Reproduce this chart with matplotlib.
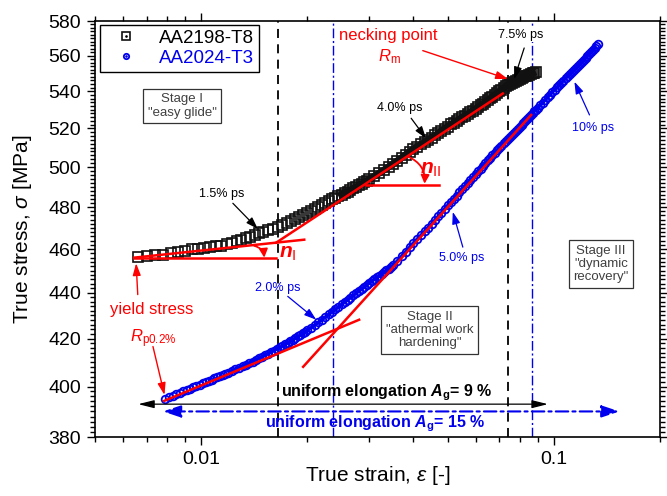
import matplotlib
matplotlib.use("Agg")
import matplotlib.pyplot as plt
from matplotlib.lines import Line2D
from matplotlib.ticker import FixedLocator, MultipleLocator, NullFormatter, FuncFormatter, LogLocator

plt.rcParams['font.family'] = ['Liberation Sans', 'DejaVu Sans']
plt.rcParams['mathtext.fontset'] = 'custom'
plt.rcParams['mathtext.rm'] = 'Liberation Sans'
plt.rcParams['mathtext.it'] = 'Liberation Sans:italic'
plt.rcParams['mathtext.bf'] = 'Liberation Sans:bold'
plt.rcParams['mathtext.bfit'] = 'Liberation Sans:italic:bold'

# AA2198-T8 true strain / true stress
black_strain = [0.0066, 0.0070, 0.0074, 0.0078, 0.0082, 0.0086, 0.0090, 0.0094, 0.0098, 0.0102,
                0.0106, 0.0110, 0.0114, 0.0118, 0.0122, 0.0126, 0.0130, 0.0134, 0.0138, 0.0142,
                0.0146, 0.0150, 0.0155, 0.0160, 0.0165, 0.0170, 0.0175, 0.0180, 0.0185, 0.0190,
                0.0195, 0.0200, 0.0205, 0.0210, 0.0215, 0.0220, 0.0225, 0.0230, 0.0235, 0.0240,
                0.0245, 0.0250, 0.0255, 0.0260, 0.0265, 0.0270, 0.0275, 0.0280, 0.0285, 0.0290,
                0.0295, 0.0300, 0.031, 0.032, 0.033, 0.034, 0.035, 0.036, 0.037, 0.038,
                0.039, 0.040, 0.041, 0.042, 0.043, 0.044, 0.045, 0.046, 0.047, 0.048,
                0.049, 0.050, 0.051, 0.052, 0.053, 0.054, 0.055, 0.056, 0.057, 0.058,
                0.059, 0.060, 0.061, 0.062, 0.063, 0.064, 0.065, 0.066, 0.067, 0.068,
                0.069, 0.070, 0.071, 0.072, 0.073, 0.074, 0.075, 0.076, 0.077, 0.078,
                0.079, 0.080, 0.081, 0.082, 0.083, 0.084, 0.085, 0.086, 0.087, 0.088, 0.089]
black_stress = [456.4, 456.6, 457.0, 457.4, 458.0, 458.6, 459.3, 459.8, 460.1, 460.5,
                460.8, 461.2, 461.6, 462.2, 462.9, 463.6, 464.3, 465.1, 465.9, 466.7,
                467.4, 468.1, 468.9, 469.7, 470.5, 471.4, 472.3, 473.3, 474.2, 475.1,
                476.1, 477.1, 478.0, 479.0, 479.9, 480.9, 481.8, 482.8, 483.8, 484.5,
                485.3, 486.1, 486.9, 487.7, 488.4, 489.2, 490.0, 490.7, 491.5, 492.3,
                493.1, 493.8, 495.4, 496.9, 498.5, 500.1, 501.6, 503.2, 504.7, 506.3,
                507.8, 509.3, 510.5, 511.7, 512.8, 514.0, 515.2, 516.3, 517.5, 518.7,
                519.9, 521.0, 522.2, 523.1, 524.0, 524.9, 525.9, 526.8, 527.7, 528.6,
                529.5, 530.5, 531.4, 532.3, 533.3, 534.2, 535.2, 536.1, 537.1, 538.0,
                539.0, 539.9, 540.9, 541.8, 542.8, 543.7, 544.2, 544.8, 545.3, 545.9,
                546.4, 547.0, 547.5, 547.9, 548.3, 548.7, 549.1, 549.5, 549.9, 550.3, 550.7]

# AA2024-T3
blue_strain = [0.0079, 0.0081, 0.0083, 0.0085, 0.0087, 0.0089, 0.0091, 0.0093, 0.0095, 0.0097,
               0.0099, 0.0101, 0.0103, 0.0105, 0.0107, 0.0109, 0.0111, 0.0113, 0.0115, 0.0117,
               0.0119, 0.0122, 0.0125, 0.0128, 0.0131, 0.0134, 0.0137, 0.0140, 0.0143, 0.0146,
               0.0149, 0.0152, 0.0155, 0.0158, 0.0161, 0.0164, 0.0167, 0.0170, 0.0173, 0.0176,
               0.0179, 0.0182, 0.0185, 0.0188, 0.0191, 0.0194, 0.0197, 0.0200, 0.0205, 0.0210,
               0.0215, 0.0220, 0.0225, 0.0230, 0.0235, 0.0240, 0.0245, 0.0250, 0.0255, 0.0260,
               0.0265, 0.0270, 0.0275, 0.0280, 0.0285, 0.0290, 0.0295, 0.0300, 0.0305, 0.0310,
               0.0315, 0.0320, 0.0325, 0.0330, 0.0335, 0.0340, 0.0345, 0.0350, 0.036, 0.037,
               0.038, 0.039, 0.040, 0.041, 0.042, 0.043, 0.044, 0.045, 0.046, 0.047,
               0.048, 0.049, 0.050, 0.051, 0.052, 0.053, 0.054, 0.055, 0.056, 0.057,
               0.058, 0.059, 0.060, 0.061, 0.062, 0.063, 0.064, 0.065, 0.066, 0.067,
               0.068, 0.069, 0.070, 0.071, 0.072, 0.073, 0.074, 0.075, 0.076, 0.077,
               0.078, 0.079, 0.080, 0.081, 0.082, 0.083, 0.084, 0.085, 0.086, 0.087,
               0.088, 0.089, 0.090, 0.0915, 0.0930, 0.0945, 0.0960, 0.0975, 0.0990, 0.1005,
               0.1020, 0.1035, 0.1050, 0.1065, 0.1080, 0.1095, 0.1110, 0.1125, 0.1140, 0.1155,
               0.1170, 0.1185, 0.1200, 0.1215, 0.1230, 0.1245, 0.1260, 0.1275, 0.1290, 0.1305,
               0.1320, 0.1335]
blue_stress = [395.1, 395.7, 396.3, 396.9, 397.5, 398.1, 398.7, 399.2, 399.7, 400.3,
               400.8, 401.3, 401.8, 402.3, 402.8, 403.3, 403.7, 404.2, 404.7, 405.2,
               405.7, 406.4, 407.1, 407.7, 408.4, 409.0, 409.7, 410.3, 411.0, 411.6,
               412.3, 413.0, 413.6, 414.3, 414.9, 415.6, 416.2, 416.9, 417.6, 418.2,
               418.9, 419.5, 420.2, 420.9, 421.5, 422.2, 422.8, 423.5, 424.7, 425.8,
               427.0, 428.1, 429.3, 430.4, 431.5, 432.6, 433.7, 434.8, 435.8, 436.8,
               437.8, 438.8, 439.8, 440.7, 441.7, 442.6, 443.6, 444.5, 445.3, 446.1,
               446.9, 447.7, 448.5, 449.3, 450.1, 450.9, 451.7, 452.5, 454.5, 456.6,
               458.7, 460.8, 462.9, 464.7, 466.5, 468.3, 470.1, 471.9, 473.7, 475.5,
               477.3, 479.1, 480.9, 482.5, 484.1, 485.7, 487.3, 488.9, 490.4, 491.9,
               493.4, 494.9, 496.4, 497.8, 499.2, 500.6, 502.0, 503.4, 504.7, 506.0,
               507.3, 508.6, 509.9, 511.0, 512.1, 513.2, 514.3, 515.4, 516.5, 517.6,
               518.7, 519.8, 520.9, 521.9, 522.9, 523.9, 524.9, 525.9, 527.0, 528.0,
               529.1, 530.0, 530.9, 532.3, 533.8, 535.2, 536.7, 538.1, 539.5, 540.9,
               542.2, 543.4, 544.7, 545.9, 547.2, 548.4, 549.6, 550.7, 551.9, 553.0,
               554.2, 555.4, 556.5, 557.6, 558.7, 559.8, 560.9, 562.0, 563.1, 564.2,
               565.3, 566.4]

# red fit lines (strain pair, stress pair)
fit_black_I = ([0.00646, 0.0196], [456.0, 464.4])
fit_black_I_ref = ([0.00646, 0.01632], [456.0, 456.0])
fit_black_II = ([0.01632, 0.07166], [463.0, 538.8])
fit_black_II_ref = ([0.02936, 0.04729], [491.0, 491.0])
fit_blue_I = ([0.00785, 0.02805], [394.2, 428.1])
fit_blue_II = ([0.01946, 0.08624], [408.1, 527.2])

# stage borders
black_borders = [0.0165, 0.0741]
blue_borders = [0.0236, 0.0868]

BLUE = '#0000ee'
RED = '#ff0000'

fig = plt.figure(figsize=(6.67, 4.96), dpi=100)
ax = fig.add_axes([95 / 667, 59 / 496, 565 / 667, 416 / 496])
ax.set_xscale('log')
ax.set_yscale('log')

for xv in black_borders:
    ax.axvline(xv, color='k', lw=1.3, ls=(0, (5, 3.5)), zorder=1)
for xv in blue_borders:
    ax.axvline(xv, color=BLUE, lw=1.0, ls=(0, (7, 2, 1.5, 2)), zorder=1)

# the markers overlap so densely in the original that they form a band
ax.plot(black_strain[40:], black_stress[40:], color='#111111', lw=5, solid_capstyle='butt', zorder=2)
ax.plot(blue_strain[20:-1], blue_stress[20:-1], color=BLUE, lw=2.5, solid_capstyle='butt', zorder=2)
h1, = ax.plot(black_strain, black_stress, ls='none', marker='s', ms=7.5, mfc='none',
              mec='#111111', mew=1.2, zorder=3)
h2, = ax.plot(blue_strain, blue_stress, ls='none', marker='o', ms=5.5, mfc='none',
              mec=BLUE, mew=1.3, zorder=3)

for xs, ys in [fit_black_I, fit_black_I_ref, fit_black_II, fit_black_II_ref, fit_blue_I, fit_blue_II]:
    ax.plot(xs, ys, color=RED, lw=1.8, zorder=4)

# angle arcs
ax.annotate('', xy=(0.0151, 456.0), xytext=(0.01414, 461.5),
            arrowprops=dict(arrowstyle='-|>,head_length=0.5,head_width=0.25', color=RED, lw=1.3,
                            shrinkA=0, shrinkB=0, connectionstyle='arc3,rad=-0.35'), zorder=5)
ax.annotate('', xy=(0.0430, 491.6), xytext=(0.0386, 505.3),
            arrowprops=dict(arrowstyle='-|>,head_length=0.5,head_width=0.25', color=RED, lw=1.3,
                            shrinkA=0, shrinkB=0, connectionstyle='arc3,rad=-0.35'), zorder=5)
ax.text(0.0176, 458.1, r'$\mathbfit{n}_\mathrm{I}$', color=RED, fontsize=15, ha='center', va='center')
ax.text(0.0449, 498.5, r'$\mathbfit{n}_\mathrm{II}$', color=RED, fontsize=15, ha='center', va='center')

# small arrows with labels
def label_arrow(text, txy, tail, head, color, fs=9, bg=False):
    t = ax.text(txy[0], txy[1], text, color=color, fontsize=fs, ha='center', va='center', zorder=7)
    if bg:
        t.set_bbox(dict(boxstyle='square,pad=0.1', fc='white', ec='none'))
    ax.annotate('', xy=head, xytext=tail,
                arrowprops=dict(arrowstyle='-|>,head_length=0.6,head_width=0.2', color=color,
                                lw=0.9, shrinkA=0, shrinkB=0, mutation_scale=12), zorder=6)

label_arrow('1.5% ps', (0.0114, 486.5), (0.0123, 481.9), (0.01448, 469.5), 'k')
label_arrow('4.0% ps', (0.0365, 531.1), (0.0394, 525.4), (0.0434, 514.8), 'k')
label_arrow('7.5% ps', (0.0808, 571.8), (0.0824, 564.3), (0.0772, 546.8), 'k', bg=True)
label_arrow('2.0% ps', (0.0165, 442.1), (0.0176, 438.4), (0.0212, 428.1), BLUE)
label_arrow('5.0% ps', (0.0548, 455.8), (0.0552, 460.9), (0.0517, 477.7), BLUE)
label_arrow('10% ps', (0.129, 520.1), (0.1262, 527.2), (0.1144, 545.3), BLUE)

# necking point / yield stress
ax.text(0.02466, 571.8, 'necking point', color=RED, fontsize=12, ha='left', va='center')
ax.text(0.0341, 559.2, r'$R_\mathrm{m}$', color=RED, fontsize=12, ha='center', va='center')
ax.annotate('', xy=(0.0741, 546.8), xytext=(0.0425, 562.8),
            arrowprops=dict(arrowstyle='-|>,head_length=0.6,head_width=0.2', color=RED, lw=1.0,
                            shrinkA=0, shrinkB=0, mutation_scale=12), zorder=6)
ax.text(0.00722, 432.4, 'yield stress', color=RED, fontsize=12, ha='center', va='center')
ax.text(0.0073, 420.1, r'$R_\mathrm{p0.2\%}$', color=RED, fontsize=12, ha='center', va='center')
ax.annotate('', xy=(0.00654, 453.4), xytext=(0.00661, 439.2),
            arrowprops=dict(arrowstyle='-|>,head_length=0.6,head_width=0.2', color=RED, lw=1.0,
                            shrinkA=0, shrinkB=0, mutation_scale=12), zorder=6)
ax.annotate('', xy=(0.00787, 396.6), xytext=(0.0073, 416.6),
            arrowprops=dict(arrowstyle='-|>,head_length=0.6,head_width=0.2', color=RED, lw=1.0,
                            shrinkA=0, shrinkB=0, mutation_scale=12), zorder=6)

# stage boxes
box = dict(boxstyle='square,pad=0.35', fc='white', ec='#333333', lw=0.9)
ax.text(0.00883, 532.0, 'Stage I\n"easy glide"', fontsize=9.5, color='#404040',
        ha='center', va='center', bbox=box, linespacing=1.15)
ax.text(0.0445, 423.7, 'Stage II\n"athermal work\nhardening"', fontsize=9.5, color='#404040',
        ha='center', va='center', bbox=box, linespacing=1.15, zorder=2)
ax.text(0.1362, 453.1, 'Stage III\n"dynamic\nrecovery"', fontsize=9.5, color='#404040',
        ha='center', va='center', bbox=box, linespacing=1.15)

# uniform elongation arrows
ax.annotate('', xy=(0.00663, 392.9), xytext=(0.0962, 392.9),
            arrowprops=dict(arrowstyle='<|-|>,head_length=0.8,head_width=0.2', color='k', lw=0.9,
                            shrinkA=0, shrinkB=0, mutation_scale=12), zorder=6)
ax.annotate('', xy=(0.00779, 390.0), xytext=(0.1535, 390.0),
            arrowprops=dict(arrowstyle='<|-|>,head_length=0.9,head_width=0.3', color=BLUE, lw=1.5,
                            ls=(0, (6, 2, 1.5, 2)), shrinkA=0, shrinkB=0, mutation_scale=12), zorder=6)
ax.text(0.03345, 395.9, r'uniform elongation $\mathbfit{A}_\mathbf{g}$= 9 %', fontsize=11.5,
        fontweight='bold', color='k', ha='center', va='baseline')
ax.text(0.0311, 383.7, r'uniform elongation $\mathbfit{A}_\mathbf{g}$= 15 %', fontsize=11.5,
        fontweight='bold', color=BLUE, ha='center', va='baseline')

# axes
ax.set_xlim(0.005, 0.2)
ax.set_ylim(380, 580)
ax.xaxis.set_major_locator(FixedLocator([0.01, 0.1]))
ax.xaxis.set_major_formatter(FuncFormatter(lambda v, p: '%g' % v))
ax.xaxis.set_minor_locator(LogLocator(base=10, subs=range(2, 10)))
ax.xaxis.set_minor_formatter(NullFormatter())
ax.yaxis.set_major_locator(FixedLocator(list(range(380, 581, 20))))
ax.yaxis.set_major_formatter(FuncFormatter(lambda v, p: '%d' % v))
ax.yaxis.set_minor_locator(MultipleLocator(2))
ax.yaxis.set_minor_formatter(NullFormatter())
ax.tick_params(which='both', direction='out', top=True, right=True, width=1)
ax.tick_params(which='major', length=6, labelsize=14, pad=4)
ax.tick_params(which='minor', length=3.5)
for s in ax.spines.values():
    s.set_linewidth(1.2)

ax.set_xlabel(r'True strain, $\varepsilon$ [-]', fontsize=15)
ax.set_ylabel(r'True stress, $\sigma$ [MPa]', fontsize=15)
ax.xaxis.set_label_coords(0.5, -0.092)
ax.xaxis.label.set_va('center')
ax.yaxis.set_label_coords(-0.129, 0.5)
ax.yaxis.label.set_va('center')

dot_k = Line2D([], [], ls='none', marker='.', ms=2.5, color='k')
dot_b = Line2D([], [], ls='none', marker='.', ms=2.5, color=BLUE)
leg = ax.legend([(h1, dot_k), (h2, dot_b)], ['AA2198-T8', 'AA2024-T3'], loc='upper left',
                bbox_to_anchor=(0.0088, 0.99), borderaxespad=0, fontsize=13.5, markerscale=0.7,
                handlelength=2.3, handletextpad=0.6, borderpad=0.25, labelspacing=0.15,
                fancybox=False, framealpha=1, edgecolor='k')
leg.get_frame().set_linewidth(1.0)
leg.get_texts()[1].set_color(BLUE)

fig.savefig('out.png', dpi=100)
